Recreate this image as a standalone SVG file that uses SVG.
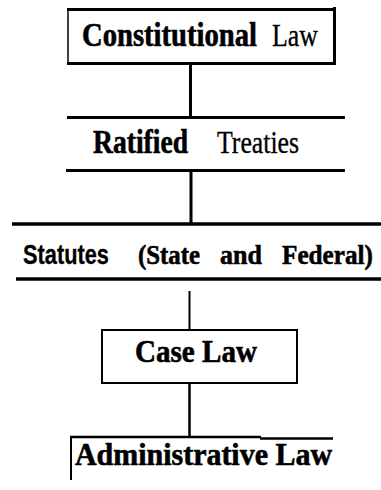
<svg xmlns="http://www.w3.org/2000/svg" width="381" height="490" viewBox="0 0 381 490">
<style>
.b{font-family:"Liberation Serif","Times New Roman",serif;font-weight:bold;fill:#000;stroke:#000;stroke-width:0.6}
.r{font-family:"Liberation Serif","Times New Roman",serif;font-weight:normal;fill:#000;stroke:#000;stroke-width:0.35}
.s{font-family:"Liberation Sans",Arial,sans-serif;font-weight:bold;fill:#000;stroke:#000;stroke-width:0.3}
.ln{stroke:#000;fill:none;stroke-linecap:butt}
</style>
<rect width="381" height="490" fill="#fff"/>
<g id="connectors" class="ln">
<line x1="190.5" y1="64" x2="190.5" y2="117" stroke-width="3"/>
<line x1="191" y1="171" x2="191" y2="224" stroke-width="3"/>
<line x1="189.5" y1="291" x2="189.5" y2="330" stroke-width="2"/>
<line x1="189.5" y1="383" x2="189.5" y2="437" stroke-width="2.5"/>
</g>
<g id="constitutional-law">
<line class="ln" x1="67" y1="9.5" x2="336" y2="9.5" stroke-width="3"/>
<line class="ln" x1="67" y1="63.5" x2="336" y2="63.5" stroke-width="3"/>
<line class="ln" x1="68" y1="9" x2="68" y2="64" stroke-width="1.5"/>
<line class="ln" x1="334.5" y1="7" x2="334.5" y2="65" stroke-width="3"/>
<text class="b" font-size="33" transform="translate(82 46) scale(0.868 1)">Constitutional</text>
<text class="r" font-size="31" transform="translate(272 46) scale(0.835 1)">Law</text>
</g>
<g id="ratified-treaties">
<line class="ln" x1="67" y1="117.5" x2="345" y2="117.5" stroke-width="3"/>
<line class="ln" x1="66" y1="170.5" x2="345" y2="170.5" stroke-width="3"/>
<text class="b" font-size="33" transform="translate(93 153) scale(0.836 1)">Ratified</text>
<text class="r" font-size="31" transform="translate(217 153) scale(0.831 1)">Treaties</text>
</g>
<g id="statutes">
<line class="ln" x1="12" y1="224" x2="381" y2="224" stroke-width="3.5"/>
<line class="ln" x1="16" y1="279" x2="381" y2="279" stroke-width="3.5"/>
<text class="s" font-size="27" transform="translate(23 264) scale(0.807 1)">Statutes</text>
<text class="b" font-size="28" transform="translate(138 264) scale(0.886 1)">(State</text>
<text class="b" font-size="28" transform="translate(220 264) scale(0.93 1)">and</text>
<text class="b" font-size="28" transform="translate(282 264) scale(0.9 1)">Federal)</text>
</g>
<g id="case-law">
<rect class="ln" x="102" y="330" width="195" height="53" stroke-width="2"/>
<text class="b" font-size="31" transform="translate(135 362) scale(0.938 1)">Case Law</text>
</g>
<g id="administrative-law">
<line class="ln" x1="70" y1="437" x2="261" y2="437" stroke-width="2.5"/>
<line class="ln" x1="260" y1="438.5" x2="333" y2="438.5" stroke-width="2.5"/>
<line class="ln" x1="71" y1="436" x2="71" y2="480" stroke-width="2"/>
<text class="b" font-size="32" transform="translate(75 465) scale(0.936 1)">Administrative Law</text>
</g>
</svg>
